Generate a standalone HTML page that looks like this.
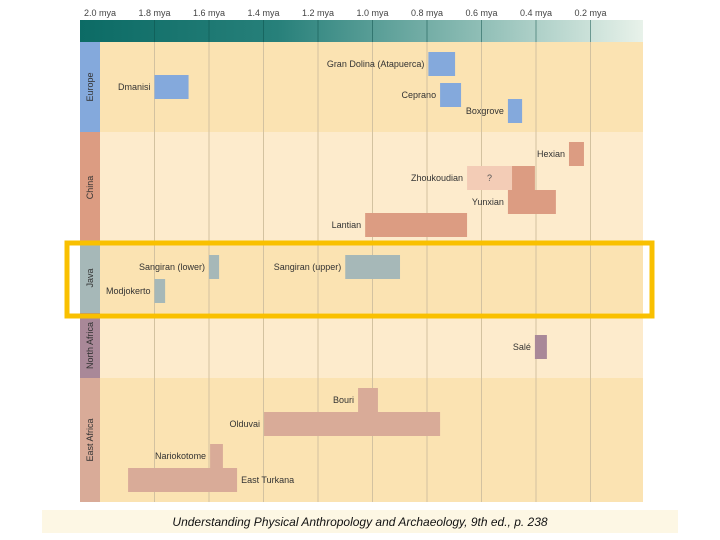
<!DOCTYPE html>
<html><head><meta charset="utf-8"><style>
html,body{margin:0;padding:0;background:#fff;width:720px;height:540px;overflow:hidden}
svg{display:block}
text{font-family:"Liberation Sans",sans-serif}
</style></head><body>
<svg id="chart" width="720" height="540" viewBox="0 0 720 540" xmlns="http://www.w3.org/2000/svg">
<defs>
<linearGradient id="hg" x1="0" x2="1" y1="0" y2="0">
<stop offset="0" stop-color="#0c6b65"/><stop offset="0.35" stop-color="#27807a"/><stop offset="0.7" stop-color="#8cbcb4"/><stop offset="1" stop-color="#e8f2ea"/>
</linearGradient>
</defs>
<g id="bg"></g><g id="grid"></g><g id="bars"></g><g id="labels"></g>
<rect x="67" y="243" width="585" height="73" fill="none" stroke="#f9c000" stroke-width="5"/>
<rect x="42" y="510" width="636" height="23" fill="#fdf7e4"/>
<text x="360" y="526" text-anchor="middle" font-size="12" font-style="italic" fill="#111">Understanding Physical Anthropology and Archaeology, 9th ed., p. 238</text>
</svg>
<script>
const ticks=[2.0,1.8,1.6,1.4,1.2,1.0,0.8,0.6,0.4,0.2];
const tickLabels=["2.0 mya","1.8 mya","1.6 mya","1.4 mya","1.2 mya","1.0 mya","0.8 mya","0.6 mya","0.4 mya","0.2 mya"];
const regions=["Europe","China","Java","North Africa","East Africa"];
const regionTop=[42,132,243,313,378];
const regionBottom=[132,243,313,378,502];
const sites=["Dmanisi","Gran Dolina (Atapuerca)","Ceprano","Boxgrove","Hexian","Zhoukoudian","Yunxian","Lantian","Sangiran (lower)","Sangiran (upper)","Modjokerto","Salé","Bouri","Olduvai","Nariokotome","East Turkana"];
const siteRegion=[0,0,0,0,1,1,1,1,2,2,2,3,4,4,4,4];
const siteStart=[1.80,0.795,0.752,0.503,0.279,0.488,0.503,1.027,1.600,1.100,1.800,0.404,1.053,1.398,1.596,1.897];
const siteEnd=[1.675,0.697,0.675,0.451,0.224,0.404,0.327,0.653,1.563,0.899,1.761,0.360,0.980,0.752,1.549,1.497];
const uncertainStart=[null,null,null,null,null,0.653,null,null,null,null,null,null,null,null,null,null];
const siteRow=[75,52,83,99,142,166,190,213,255,255,279,335,388,412,444,468];
const labelRight=[1,1,1,1,1,1,1,1,1,1,1,1,1,1,1,0];
const X=v=>100+(2.0-v)*272.5;
const NS="http://www.w3.org/2000/svg";
function mk(p,t,a){const e=document.createElementNS(NS,t);for(const k in a)e.setAttribute(k,a[k]);p.appendChild(e);return e;}
const bg=document.getElementById('bg'),grid=document.getElementById('grid'),bars=document.getElementById('bars'),lab=document.getElementById('labels');
const rowFill=["#fbe3b2","#fdebcc","#fbe3b2","#fdebcc","#fbe3b2"];
const tabFill=["#84a9dc","#dc9c82","#a6b8b8","#a98898","#d9ab98"];
let h=mk(bg,'rect',{x:80,y:20,width:563,height:22,fill:'url(#hg)'});


regions.forEach((r,i)=>{
 let rr=mk(bg,'rect',{x:100,y:regionTop[i],width:543,height:regionBottom[i]-regionTop[i],fill:rowFill[i]});
 
 
 let tb=mk(bg,'rect',{x:80,y:regionTop[i],width:20,height:regionBottom[i]-regionTop[i],fill:tabFill[i]});
 
 
 const cy=(regionTop[i]+regionBottom[i])/2;
 let t=mk(lab,'text',{x:0,y:0,transform:`translate(93,${cy}) rotate(-90)`,'text-anchor':'middle','font-size':9,fill:'#333'});
 t.textContent=r;
 
 
});
ticks.forEach((v,i)=>{
 const x=X(v);
 if(i>0){
  let l=mk(grid,'line',{x1:x,x2:x,y1:42,y2:502,stroke:'#d3c2a0','stroke-width':1});
  
  
  let l2=mk(grid,'line',{x1:x,x2:x,y1:20,y2:42,stroke:'#0b4f4a','stroke-opacity':0.5,'stroke-width':1});
  
  
 }
 let t=mk(lab,'text',{x:x,y:16,'text-anchor':'middle','font-size':9,fill:'#444'});
 t.textContent=tickLabels[i];
 
 
});
sites.forEach((s,i)=>{
 const y=siteRow[i],hh=24,f=tabFill[siteRegion[i]];
 if(uncertainStart[i]!=null){
  let u=mk(bars,'rect',{x:X(uncertainStart[i]),y:y,width:X(siteStart[i])-X(uncertainStart[i]),height:hh,fill:'#f3ccb6'});
  
  
  let q=mk(lab,'text',{x:(X(uncertainStart[i])+X(siteStart[i]))/2,y:y+15,'text-anchor':'middle','font-size':9,fill:'#555'});
  q.textContent='?';
  
  
 }
 let b=mk(bars,'rect',{x:X(siteStart[i]),y:y,width:X(siteEnd[i])-X(siteStart[i]),height:hh,fill:f});
 
 
 const lx=labelRight[i]?X(uncertainStart[i]!=null?uncertainStart[i]:siteStart[i])-4:X(siteEnd[i])+4;
 let t=mk(lab,'text',{x:lx,y:y+15,'text-anchor':labelRight[i]?'end':'start','font-size':9,fill:'#333'});
 t.textContent=s;
 
 
});
</script>
</body></html>
